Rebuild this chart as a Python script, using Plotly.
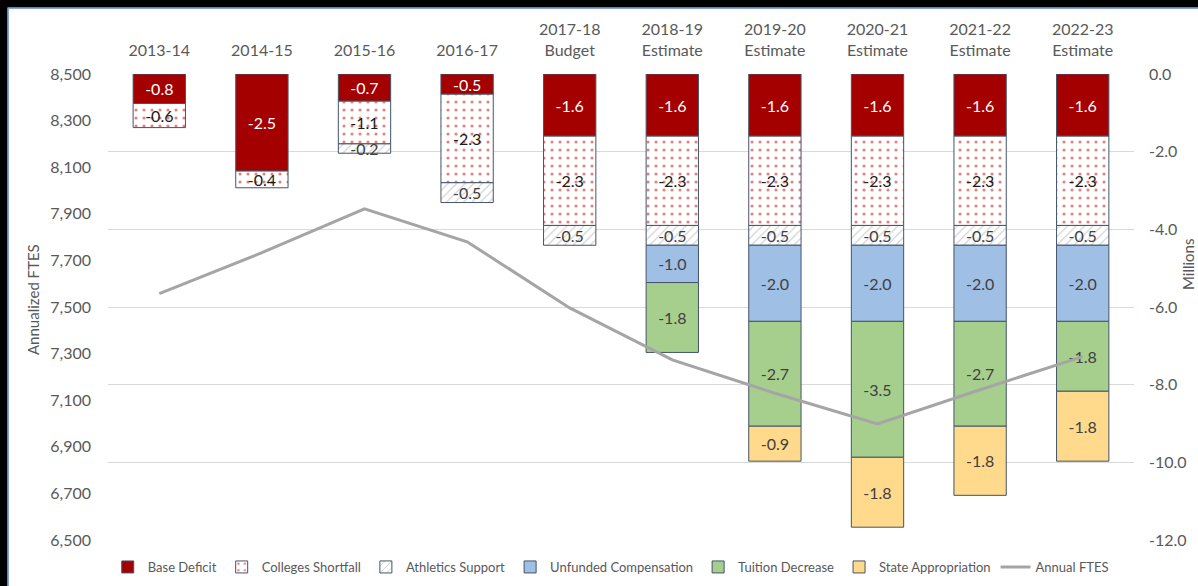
import plotly.graph_objects as go

categories = ["2013-14", "2014-15", "2015-16", "2016-17", "2017-18<br>Budget",
              "2018-19<br>Estimate", "2019-20<br>Estimate", "2020-21<br>Estimate",
              "2021-22<br>Estimate", "2022-23<br>Estimate"]

base_deficit = [-0.76, -2.50, -0.70, -0.52, -1.60, -1.60, -1.60, -1.60, -1.60, -1.60]
colleges_shortfall = [-0.62, -0.43, -1.10, -2.28, -2.30, -2.30, -2.30, -2.30, -2.30, -2.30]
athletics_support = [None, None, -0.24, -0.51, -0.51, -0.51, -0.51, -0.51, -0.51, -0.51]
unfunded_comp = [None, None, None, None, None, -0.96, -1.96, -1.96, -1.96, -1.96]
tuition_decrease = [None, None, None, None, None, -1.80, -2.70, -3.50, -2.70, -1.80]
state_approp = [None, None, None, None, None, None, -0.90, -1.80, -1.78, -1.80]

annual_ftes = [7557, 7733, 7921, 7780, 7496, 7273, 7130, 6998, 7145, 7287]

millions_ticks = [0, -2, -4, -6, -8, -10, -12]
millions_ticktext = ["0.0", "-2.0", "-4.0", "-6.0", "-8.0", "-10.0", "-12.0"]

FONT = "Lato, 'Open Sans', sans-serif"
GRAY = "#595959"
EDGE = "#44546A"

def labels(vals):
    return [None if v is None else f"{v:.1f}" for v in vals]

fig = go.Figure()

series = [
    ("Base Deficit", base_deficit, dict(color="#A50000"), "white"),
    ("Colleges Shortfall", colleges_shortfall,
     dict(color="white", pattern=dict(shape=".", fgcolor="#D00000", bgcolor="white", size=8, solidity=0.12)), "#1a1a1a"),
    ("Athletics Support", athletics_support,
     dict(color="white", pattern=dict(shape="/", fgcolor="#A6A6A6", bgcolor="white", size=6, solidity=0.2)), "#404040"),
    ("Unfunded Compensation", unfunded_comp, dict(color="#9FBFE5"), "#404040"),
    ("Tuition Decrease", tuition_decrease, dict(color="#A6CF8E"), "#404040"),
    ("State Appropriation", state_approp, dict(color="#FFD98C"), "#404040"),
]

for name, vals, mk, tcolor in series:
    mk = dict(mk)
    mk["line"] = dict(color=EDGE, width=1)
    fig.add_trace(go.Bar(
        x=categories, y=vals, name=name, marker=mk,
        text=labels(vals), textposition="inside", insidetextanchor="middle",
        textangle=0, constraintext="none",
        textfont=dict(family=FONT, size=16, color=tcolor),
        yaxis="y", hoverinfo="skip",
    ))

fig.add_trace(go.Scatter(
    x=categories, y=annual_ftes, name="Annual FTES", mode="lines",
    line=dict(color="#A5A5A5", width=3), yaxis="y2",
))

L, R, T, B = 108, 64, 74, 46
W, H = 1198, 586
pw, ph = W - L - R, H - T - B

def px_x(p):
    return (p - L) / pw

def px_y(p):
    return (H - B - p) / ph

fig.update_layout(
    width=W, height=H,
    margin=dict(l=L, r=R, t=T, b=B, autoexpand=False),
    paper_bgcolor="white", plot_bgcolor="white",
    barmode="relative", bargap=0.49,
    font=dict(family=FONT, color=GRAY),
    uniformtext=dict(minsize=16, mode="show"),
    xaxis=dict(side="top", showgrid=False, showline=False, ticks="", automargin=False,
               tickfont=dict(size=16, color=GRAY), ticklabelstandoff=14),
    yaxis=dict(side="right", range=[-12, 0], tickvals=millions_ticks, ticktext=millions_ticktext,
               showgrid=True, gridcolor="#D9D9D9", gridwidth=1, zeroline=False, showline=False,
               automargin=False, tickfont=dict(size=16, color=GRAY), ticklabelstandoff=14),
    yaxis2=dict(side="left", overlaying="y", range=[6500, 8500], tick0=6500, dtick=200, tickformat=",d",
                showgrid=False, zeroline=False, showline=False, automargin=False,
                tickfont=dict(size=16, color=GRAY), ticklabelstandoff=16),
    legend=dict(orientation="h", x=0.49, xanchor="center", y=px_y(567), yanchor="middle",
                font=dict(size=13, color=GRAY), itemwidth=30, traceorder="normal",
                bgcolor="rgba(0,0,0,0)"),
    showlegend=True,
    annotations=[
        dict(text="Annualized FTES", x=px_x(33), y=px_y(300), xref="paper", yref="paper",
             xanchor="center", yanchor="middle",
             showarrow=False, textangle=-90, font=dict(size=15, color=GRAY)),
        dict(text="Millions", x=px_x(1188), y=px_y(265), xref="paper", yref="paper",
             xanchor="center", yanchor="middle",
             showarrow=False, textangle=-90, font=dict(size=15, color=GRAY)),
    ],
    shapes=[
        dict(type="rect", xref="paper", yref="paper", x0=px_x(0), x1=px_x(7.5), y0=px_y(H), y1=px_y(0),
             fillcolor="black", line=dict(width=0), layer="above"),
        dict(type="rect", xref="paper", yref="paper", x0=px_x(0), x1=px_x(W), y0=px_y(7.5), y1=px_y(0),
             fillcolor="black", line=dict(width=0), layer="above"),
        dict(type="line", xref="paper", yref="paper", x0=px_x(8.5), x1=px_x(8.5), y0=px_y(H), y1=px_y(8),
             line=dict(color="#7FA7D6", width=1), layer="above"),
        dict(type="line", xref="paper", yref="paper", x0=px_x(8), x1=px_x(W), y0=px_y(8.5), y1=px_y(8.5),
             line=dict(color="#7FA7D6", width=1), layer="above"),
    ],
)

fig.write_html("out.html", config={"displayModeBar": False},
               post_script="document.body.style.margin='0';")
